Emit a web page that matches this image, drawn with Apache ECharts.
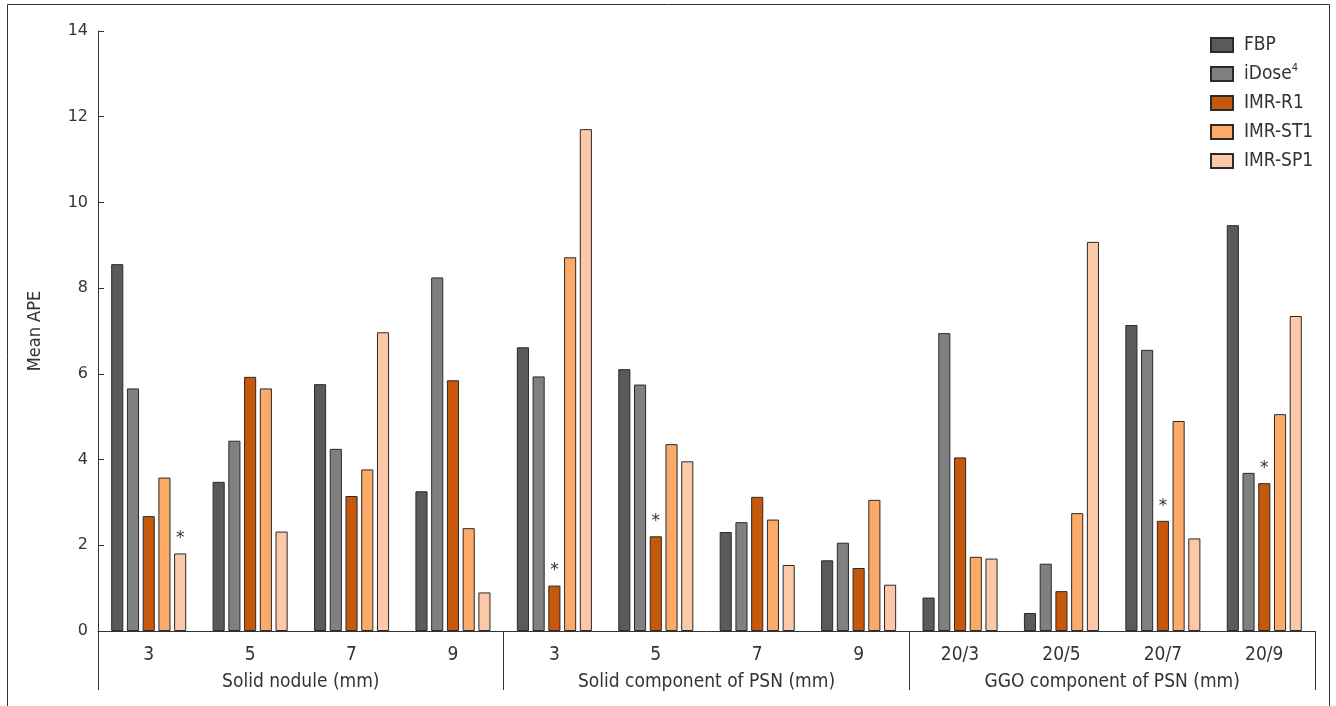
<!DOCTYPE html>
<html>
<head>
<meta charset="utf-8">
<script src="https://cdn.jsdelivr.net/npm/echarts@6/dist/echarts.min.js"></script>
<style>
html,body{margin:0;padding:0;background:#fff;}
#chart{width:1336px;height:706px;}
</style>
</head>
<body>
<div id="chart"></div>
<script>
// ---- data ----
const categories = ['3','5','7','9','3','5','7','9','20/3','20/5','20/7','20/9'];
const groups = ['Solid nodule (mm)','Solid component of PSN (mm)','GGO component of PSN (mm)'];
const yTicks = [0,2,4,6,8,10,12,14];
const seriesNames = ['FBP','iDose4','IMR-R1','IMR-ST1','IMR-SP1'];
const FBP    = [8.56, 3.48, 5.76, 3.26, 6.62, 6.11, 2.31, 1.65, 0.78, 0.42, 7.14, 9.47];
const iDose4 = [5.66, 4.44, 4.25, 8.25, 5.94, 5.75, 2.54, 2.06, 6.95, 1.57, 6.56, 3.69];
const IMR_R1 = [2.68, 5.93, 3.15, 5.85, 1.06, 2.21, 3.13, 1.47, 4.05, 0.93, 2.57, 3.45];
const IMR_ST1= [3.58, 5.66, 3.77, 2.40, 8.72, 4.36, 2.60, 3.06, 1.73, 2.75, 4.90, 5.06];
const IMR_SP1= [1.81, 2.32, 6.97, 0.90, 11.71, 3.96, 1.54, 1.08, 1.69, 9.08, 2.16, 7.35];
// asterisks: [seriesIndex, categoryIndex]
const significant = [[4,0],[2,4],[2,5],[2,10],[2,11]];

const values = [FBP, iDose4, IMR_R1, IMR_ST1, IMR_SP1];
const colors = ['#5a5a5a','#808080','#c5580b','#fbaa68','#fbc9a8'];
const narrow = "'Liberation Sans Narrow','DejaVu Sans Condensed','Open Sans',sans-serif";

const chart = echarts.init(document.getElementById('chart'), null, {renderer:'canvas'});

const series = values.map((vals, si) => ({
  name: seriesNames[si],
  type: 'bar',
  xAxisIndex: 0,
  barCategoryGap: '26%',
  barGap: '30%',
  itemStyle: {color: colors[si], borderColor: '#2a2a2a', borderWidth: 1},
  emphasis: {disabled: true},
  data: vals.map((v, ci) => {
    const star = significant.some(p => p[0] === si && p[1] === ci);
    return star ? {value: v, label: {show: true, position: 'top', distance: 6, formatter: '*',
      fontSize: 17, color: '#333', fontFamily: 'DejaVu Sans'}} : v;
  })
}));

chart.setOption({
  animation: false,
  backgroundColor: '#fff',
  grid: {left: 98, right: 21, top: 31, bottom: 75},
  legend: {
    orient: 'vertical', left: 1205, top: 29,
    itemWidth: 22, itemHeight: 14, itemGap: 7,
    icon: 'rect',
    textStyle: {fontSize: 19, lineHeight: 22, color: '#333', fontFamily: narrow, padding: [0,0,0,6],
      rich: {sup: {fontSize: 11, lineHeight: 22, verticalAlign: 'top', padding: [0,0,10,0], color: '#333', fontFamily: narrow}}},
    formatter: n => n === 'iDose4' ? 'iDose{sup|4}' : n,
    data: seriesNames
  },
  xAxis: [
    {
      type: 'category', data: categories, position: 'bottom',
      axisLine: {show: true, lineStyle: {color: '#333', width: 1}},
      axisTick: {show: false},
      axisLabel: {margin: 15, fontSize: 19, color: '#333', fontFamily: narrow, interval: 0}
    },
    {
      type: 'category', data: groups, position: 'bottom',
      axisLine: {show: false},
      axisTick: {show: true, length: 59, lineStyle: {color: '#333', width: 1}},
      axisLabel: {margin: 42, fontSize: 19, color: '#333', fontFamily: narrow, interval: 0}
    }
  ],
  yAxis: {
    type: 'value', min: 0, max: 14, interval: 2,
    name: 'Mean APE', nameLocation: 'middle', nameGap: 54, nameRotate: 90,
    nameTextStyle: {fontSize: 18, color: '#333', fontFamily: narrow},
    axisLine: {show: true, lineStyle: {color: '#333', width: 1}},
    axisTick: {show: true, inside: true, length: 6, lineStyle: {color: '#333'}},
    splitLine: {show: false},
    axisLabel: {margin: 10, fontSize: 16, color: '#333', fontFamily: 'DejaVu Sans',
      formatter: v => yTicks.includes(v) ? String(v) : ''}
  },
  graphic: [{
    type: 'rect', silent: true, z: -1,
    shape: {x: 7.5, y: 4.5, width: 1322, height: 720},
    style: {fill: 'none', stroke: '#333', lineWidth: 1}
  }],
  series: series
});
</script>
</body>
</html>
